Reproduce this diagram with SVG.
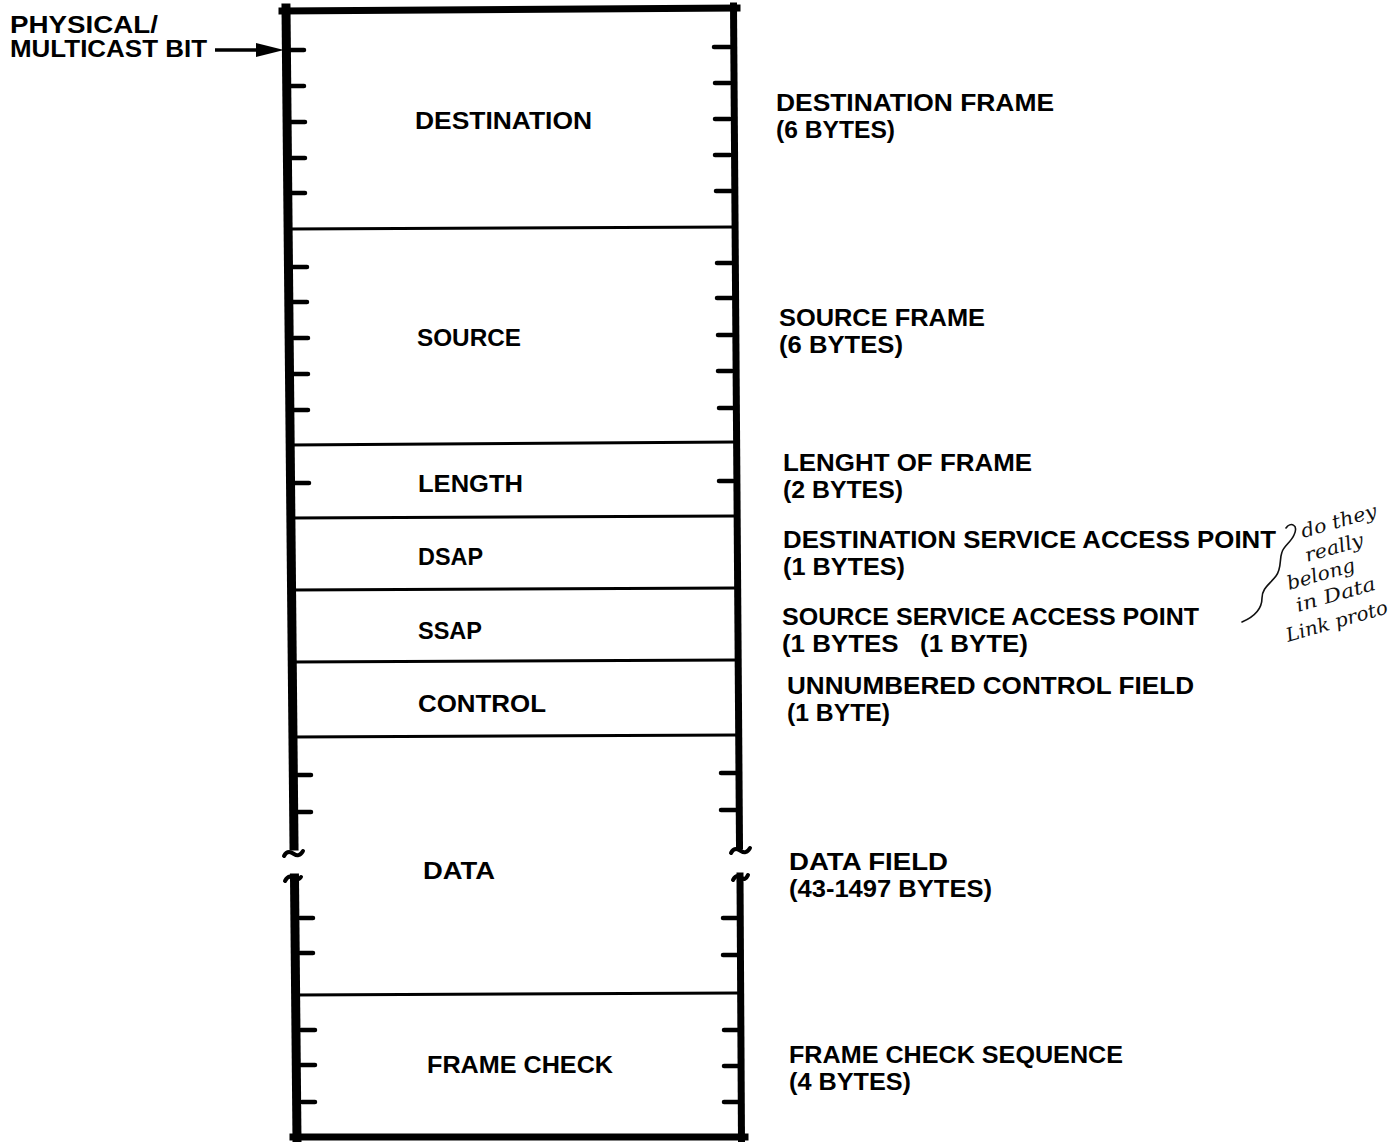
<svg xmlns="http://www.w3.org/2000/svg" width="1398" height="1142" viewBox="0 0 1398 1142">
<style>
  .lbl { font-family: "Liberation Sans", Arial, sans-serif; font-weight: bold; font-size: 23px; fill: #000; }
  .frame { stroke: #000; fill: none; stroke-linecap: square; }
  .div { stroke: #000; stroke-width: 3; fill: none; }
  .tick { stroke: #000; stroke-width: 4.5; stroke-linecap: round; fill: none; }
  .hand { font-family: "DejaVu Serif", "Liberation Serif", serif; font-style: italic; font-size: 19px; fill: #111; }
  .tilde { stroke: #000; stroke-width: 4; fill: none; stroke-linecap: round; }
</style>
<rect width="1398" height="1142" fill="#fff"/>

<g id="frame">
  <path class="frame" d="M 282 11 L 737 8" stroke-width="7"/>
  <path class="frame" d="M 293 1137 L 745 1137" stroke-width="7"/>
  <path class="frame" d="M 286 8 L 294 846" stroke-width="9" stroke-linecap="butt"/>
  <path class="tilde" d="M 284 856 C 287 850, 291 852, 294 854 S 300 856, 303 851"/>
  <path class="tilde" d="M 285 881 C 288 875, 292 876, 295 878 S 299 880, 301 877"/>
  <path class="frame" d="M 294.5 878 L 297 1140" stroke-width="9" stroke-linecap="butt"/>
  <path class="frame" d="M 733.5 6 L 739.5 846" stroke-width="7" stroke-linecap="butt"/>
  <path class="tilde" d="M 731 853 C 734 847, 738 849, 741 851 S 747 853, 750 848"/>
  <path class="tilde" d="M 733 880 C 736 874, 740 876, 742 878 S 746 879, 748 875"/>
  <path class="frame" d="M 740 876 L 741.5 1140" stroke-width="7" stroke-linecap="butt"/>
</g>

<g id="field-destination">
  <path class="div" d="M 288 229 L 735 227"/>
  <path class="tick" d="M 291 50 H 304 M 291 86 H 304 M 291 122 H 305 M 292 158 H 305 M 292 193 H 305"/>
  <path class="tick" d="M 714 47 H 730 M 715 83 H 730 M 715 119 H 730 M 715 155 H 730 M 716 191 H 731"/>
  <text class="lbl" x="415" y="129" textLength="177" lengthAdjust="spacingAndGlyphs">DESTINATION</text>
</g>

<g id="field-source">
  <path class="div" d="M 289 445 L 736 442"/>
  <path class="tick" d="M 293 267 H 307 M 293 302 H 307 M 294 338 H 308 M 294 374 H 308 M 294 410 H 308"/>
  <path class="tick" d="M 717 263 H 732 M 717 298 H 732 M 718 335 H 732 M 718 371 H 732 M 719 408 H 733"/>
  <text class="lbl" x="417" y="346" textLength="104" lengthAdjust="spacingAndGlyphs">SOURCE</text>
</g>

<g id="field-length">
  <path class="div" d="M 290 518 L 736 516"/>
  <path class="tick" d="M 295 483 H 309"/>
  <path class="tick" d="M 719 481 H 733"/>
  <text class="lbl" x="418" y="492" textLength="105" lengthAdjust="spacingAndGlyphs">LENGTH</text>
</g>

<g id="field-dsap">
  <path class="div" d="M 291 590 L 737 588"/>
  <text class="lbl" x="418" y="565" textLength="65" lengthAdjust="spacingAndGlyphs">DSAP</text>
</g>

<g id="field-ssap">
  <path class="div" d="M 291 662 L 737 660"/>
  <text class="lbl" x="418" y="639" textLength="64" lengthAdjust="spacingAndGlyphs">SSAP</text>
</g>

<g id="field-control">
  <path class="div" d="M 292 737 L 738 735"/>
  <text class="lbl" x="418" y="712" textLength="128" lengthAdjust="spacingAndGlyphs">CONTROL</text>
</g>

<g id="field-data">
  <path class="div" d="M 295 995 L 740 993"/>
  <path class="tick" d="M 298 775 H 311 M 298 812 H 311 M 300 918 H 313 M 300 953 H 313"/>
  <path class="tick" d="M 721 773 H 736 M 721 810 H 736 M 723 918 H 737 M 723 955 H 737"/>
  <text class="lbl" x="423" y="879" textLength="72" lengthAdjust="spacingAndGlyphs">DATA</text>
</g>

<g id="field-frame-check">
  <path class="tick" d="M 301 1030 H 315 M 301 1065 H 315 M 302 1102 H 315"/>
  <path class="tick" d="M 724 1030 H 738 M 724 1066 H 738 M 724 1102 H 738"/>
  <text class="lbl" x="427" y="1073" textLength="186" lengthAdjust="spacingAndGlyphs">FRAME CHECK</text>
</g>

<g id="label-physical-multicast">
  <text class="lbl" x="10" y="33" textLength="148" lengthAdjust="spacingAndGlyphs">PHYSICAL/</text>
  <text class="lbl" x="10" y="57" textLength="197" lengthAdjust="spacingAndGlyphs">MULTICAST BIT</text>
</g>

<g id="desc-destination">
  <text class="lbl" x="776" y="111" textLength="278" lengthAdjust="spacingAndGlyphs">DESTINATION FRAME</text>
  <text class="lbl" x="776" y="138" textLength="119" lengthAdjust="spacingAndGlyphs">(6 BYTES)</text>
</g>
<g id="desc-source">
  <text class="lbl" x="779" y="326" textLength="206" lengthAdjust="spacingAndGlyphs">SOURCE FRAME</text>
  <text class="lbl" x="779" y="353" textLength="124" lengthAdjust="spacingAndGlyphs">(6 BYTES)</text>
</g>
<g id="desc-length">
  <text class="lbl" x="783" y="471" textLength="249" lengthAdjust="spacingAndGlyphs">LENGHT OF FRAME</text>
  <text class="lbl" x="783" y="498" textLength="120" lengthAdjust="spacingAndGlyphs">(2 BYTES)</text>
</g>
<g id="desc-dsap">
  <text class="lbl" x="783" y="548" textLength="493" lengthAdjust="spacingAndGlyphs">DESTINATION SERVICE ACCESS POINT</text>
  <text class="lbl" x="783" y="575" textLength="122" lengthAdjust="spacingAndGlyphs">(1 BYTES)</text>
</g>
<g id="desc-ssap">
  <text class="lbl" x="782" y="625" textLength="417" lengthAdjust="spacingAndGlyphs">SOURCE SERVICE ACCESS POINT</text>
  <text class="lbl" x="782" y="652" textLength="246" lengthAdjust="spacingAndGlyphs" xml:space="preserve" style="white-space:pre">(1 BYTES   (1 BYTE)</text>
</g>
<g id="desc-control">
  <text class="lbl" x="787" y="694" textLength="407" lengthAdjust="spacingAndGlyphs">UNNUMBERED CONTROL FIELD</text>
  <text class="lbl" x="787" y="721" textLength="103" lengthAdjust="spacingAndGlyphs">(1 BYTE)</text>
</g>
<g id="desc-data">
  <text class="lbl" x="789" y="870" textLength="159" lengthAdjust="spacingAndGlyphs">DATA FIELD</text>
  <text class="lbl" x="789" y="897" textLength="203" lengthAdjust="spacingAndGlyphs">(43-1497 BYTES)</text>
</g>
<g id="desc-frame-check">
  <text class="lbl" x="789" y="1063" textLength="334" lengthAdjust="spacingAndGlyphs">FRAME CHECK SEQUENCE</text>
  <text class="lbl" x="789" y="1090" textLength="122" lengthAdjust="spacingAndGlyphs">(4 BYTES)</text>
</g>

<g id="handwritten-note">
  <path d="M 1286 528 C 1290 522, 1299 524, 1294 535 C 1291 542, 1284 546, 1282 552 C 1279 560, 1282 568, 1276 576 C 1270 584, 1262 588, 1262 598 C 1262 608, 1256 616, 1242 622" fill="none" stroke="#111" stroke-width="1.6" stroke-linecap="round"/>
  <text class="hand" x="1303" y="538" textLength="78" lengthAdjust="spacingAndGlyphs" transform="rotate(-16 1303 538)">do they</text>
  <text class="hand" x="1307" y="562" textLength="60" lengthAdjust="spacingAndGlyphs" transform="rotate(-16 1307 562)">really</text>
  <text class="hand" x="1289" y="590" textLength="70" lengthAdjust="spacingAndGlyphs" transform="rotate(-16 1289 590)">belong</text>
  <text class="hand" x="1298" y="612" textLength="82" lengthAdjust="spacingAndGlyphs" transform="rotate(-16 1298 612)">in Data</text>
  <text class="hand" x="1288" y="642" textLength="105" lengthAdjust="spacingAndGlyphs" transform="rotate(-16 1288 642)">Link proto</text>
</g>

<g id="connectors">
  <path d="M 215 50 L 262 50" stroke="#000" stroke-width="3.5" fill="none"/>
  <polygon points="256,43 284,50 256,57" fill="#000"/>
</g>
</svg>
